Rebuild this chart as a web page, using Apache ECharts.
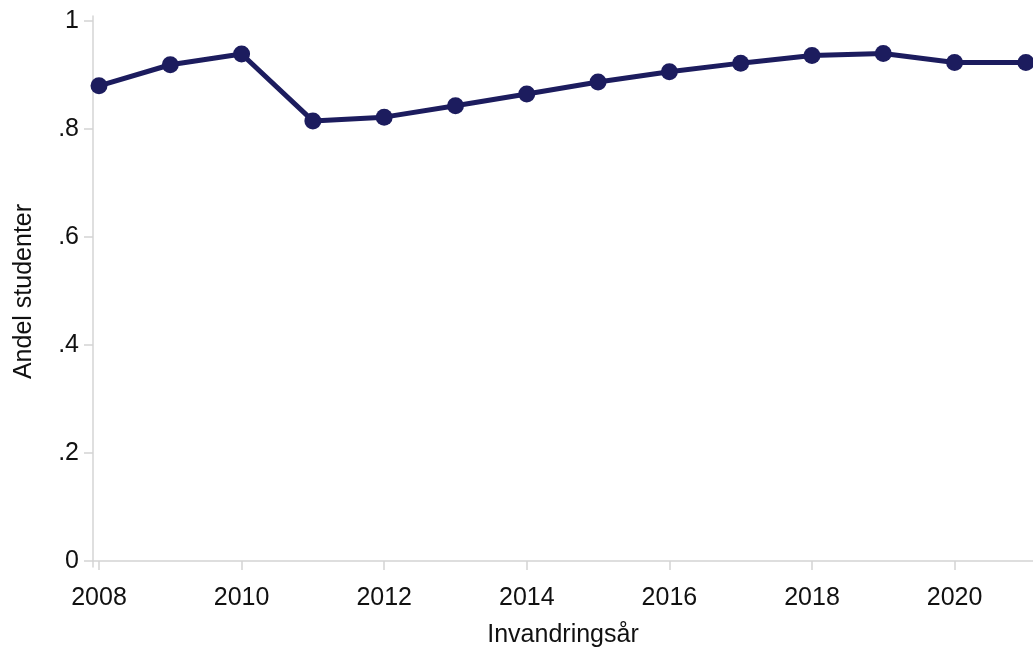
<!DOCTYPE html>
<html>
<head>
<meta charset="utf-8">
<script src="https://cdn.jsdelivr.net/npm/echarts@6/dist/echarts.min.js"></script>
<style>
  html, body { margin: 0; padding: 0; background: #fff; }
  #chart { width: 1033px; height: 647px; }
</style>
</head>
<body>
<div id="chart"></div>
<script>
// data
var years = [2008, 2009, 2010, 2011, 2012, 2013, 2014, 2015, 2016, 2017, 2018, 2019, 2020, 2021];
var shares = [0.880, 0.919, 0.939, 0.815, 0.822, 0.843, 0.865, 0.887, 0.906, 0.922, 0.936, 0.940, 0.923, 0.923];
var xTicks = [2008, 2010, 2012, 2014, 2016, 2018, 2020];
var yTicks = [0, 0.2, 0.4, 0.6, 0.8, 1];

var myChart = echarts.init(document.getElementById('chart'));

var points = years.map(function (y, i) { return [y, shares[i]]; });

function yLabel(v) {
    if (v === 0) return '0';
    if (v === 1) return '1';
    return String(v).replace('0.', '.');
}

var axisGrey = '#d4d4d4';
var font = 'Arial, "Liberation Sans", sans-serif';

let option = {
    backgroundColor: '#fff',
    animation: false,
    grid: {
        left: 93,
        right: 0,
        top: 16,
        bottom: 80,
        containLabel: false,
        outerBoundsMode: 'none'
    },
    xAxis: {
        type: 'value',
        min: 2007.916,
        max: 2021.1,
        name: 'Invandringsår',
        nameLocation: 'middle',
        nameGap: 56,
        nameTextStyle: { fontSize: 25, color: '#111', fontFamily: font },
        splitLine: { show: false },
        axisLine: { show: true, lineStyle: { color: axisGrey, width: 1.5 } },
        axisTick: {
            show: true,
            length: 9,
            customValues: xTicks,
            lineStyle: { color: axisGrey, width: 1.5 }
        },
        axisLabel: {
            customValues: xTicks,
            formatter: function (v) { return String(v); },
            margin: 19,
            fontSize: 25,
            color: '#111',
            fontFamily: font
        }
    },
    yAxis: {
        type: 'value',
        min: -0.0111,
        max: 1.0093,
        name: 'Andel studenter',
        nameLocation: 'middle',
        nameGap: 56,
        nameRotate: 90,
        nameTextStyle: { fontSize: 25, color: '#111', fontFamily: font },
        splitLine: { show: false },
        axisLine: { show: true, lineStyle: { color: axisGrey, width: 1.5 } },
        axisTick: {
            show: true,
            length: 9,
            customValues: yTicks,
            lineStyle: { color: axisGrey, width: 1.5 }
        },
        axisLabel: {
            customValues: yTicks,
            formatter: yLabel,
            margin: 14,
            fontSize: 25,
            color: '#111',
            fontFamily: font
        }
    },
    series: [{
        type: 'line',
        data: points,
        symbol: 'circle',
        symbolSize: 17,
        clip: false,
        lineStyle: { color: '#1c1c5e', width: 5 },
        itemStyle: { color: '#1c1c5e' }
    }]
};

myChart.setOption(option);
</script>
</body>
</html>
